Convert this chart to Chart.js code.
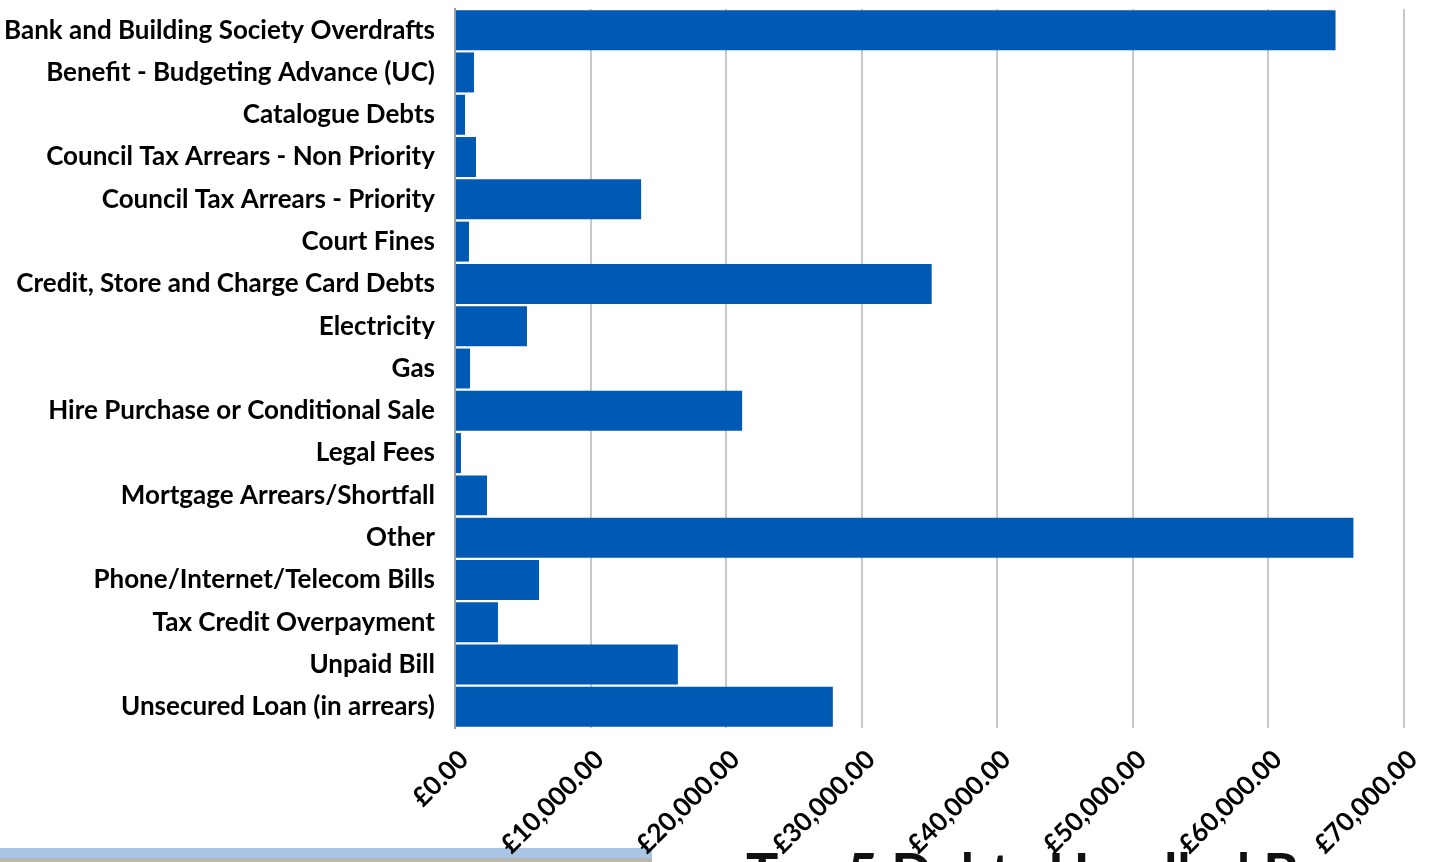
<!DOCTYPE html>
<html>
<head>
<meta charset="utf-8">
<title>Debts by type</title>
<script src="https://cdn.jsdelivr.net/npm/chart.js@4.4.1/dist/chart.umd.min.js"></script>
<style>
    html, body { margin: 0; padding: 0; background: #fff; overflow: hidden; }
    #wrap { position: relative; width: 1433px; height: 862px; }
    #debtChart { position: absolute; left: 0; top: 0; z-index: 2; }
    .band { position: absolute; left: 0; top: 848px; width: 652px; height: 10px; background: #a8c5e6; z-index: 1; }
    .strip { position: absolute; left: 0; top: 858px; width: 652px; height: 4px; background: #b9b6b0; z-index: 1; }
    .next-title { position: absolute; left: 746px; top: 845px; font: 700 54px Lato, sans-serif; line-height: 54px; color: #111; white-space: nowrap; z-index: 1; }
</style>
</head>
<body>
<div id="wrap">
    <div class="band"></div>
    <div class="strip"></div>
    <div class="next-title">Top 5 Debts Handled By</div>
    <canvas id="debtChart" width="1433" height="862"></canvas>
</div>
<script>
// Debt categories and total amounts (GBP)
const debtTypes = [
    'Bank and Building Society Overdrafts',
    'Benefit - Budgeting Advance (UC)',
    'Catalogue Debts',
    'Council Tax Arrears - Non Priority',
    'Council Tax Arrears - Priority',
    'Court Fines',
    'Credit, Store and Charge Card Debts',
    'Electricity',
    'Gas',
    'Hire Purchase or Conditional Sale',
    'Legal Fees',
    'Mortgage Arrears/Shortfall',
    'Other',
    'Phone/Internet/Telecom Bills',
    'Tax Credit Overpayment',
    'Unpaid Bill',
    'Unsecured Loan (in arrears)'
];
const debtTotals = [
    64950, 1400, 740, 1550, 13730, 1030, 35160, 5310, 1110,
    21180, 440, 2360, 66270, 6200, 3170, 16440, 27870
];
const axisMax = 70000;
const axisStep = 10000;

function formatPounds(v) {
    return '£' + Number(v).toLocaleString('en-GB', { minimumFractionDigits: 2, maximumFractionDigits: 2 });
}

const ctx = document.getElementById('debtChart').getContext('2d');

new Chart(ctx, {
    type: 'bar',
    data: {
        labels: debtTypes,
        datasets: [{
            data: debtTotals,
            backgroundColor: '#005ab4',
            borderWidth: 0,
            categoryPercentage: 0.945,
            barPercentage: 1.0
        }]
    },
    options: {
        indexAxis: 'y',
        responsive: false,
        animation: false,
        layout: { padding: { top: 9, right: 29, left: 0, bottom: 0 } },
        plugins: {
            legend: { display: false },
            tooltip: { enabled: false }
        },
        scales: {
            x: {
                min: 0,
                max: axisMax,
                // fixed axis band; labels may overhang the plot edges
                afterFit: (scale) => {
                    scale.height = 134;
                    scale.paddingLeft = 0;
                    scale.paddingRight = 0;
                },
                grid: { color: '#c8c8c8', lineWidth: 2, drawTicks: false },
                border: { display: false },
                ticks: {
                    stepSize: axisStep,
                    maxRotation: 45,
                    minRotation: 45,
                    padding: 16,
                    labelOffset: 9,
                    color: '#000',
                    font: { family: 'Lato', size: 26, weight: 'bold' },
                    callback: (v) => formatPounds(v)
                }
            },
            y: {
                afterFit: (scale) => {
                    scale.width = 455;
                    scale.paddingTop = 0;
                    scale.paddingBottom = 0;
                },
                grid: { display: false },
                border: { color: '#9c9c9c', width: 2 },
                ticks: {
                    padding: 12,
                    color: '#000',
                    font: { family: 'Lato', size: 26, weight: 'bold' }
                }
            }
        }
    }
});
</script>
</body>
</html>
